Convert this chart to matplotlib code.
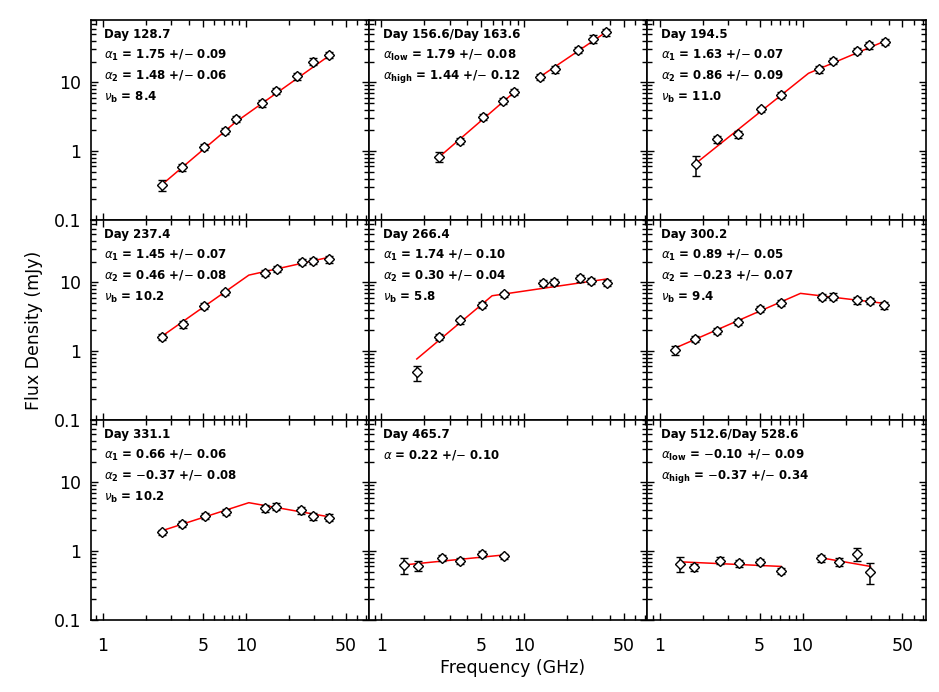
import numpy as np
import matplotlib
matplotlib.use('Agg')
import matplotlib.pyplot as plt
from matplotlib.ticker import FixedLocator, FixedFormatter, LogLocator, NullFormatter

plt.rcParams['font.family'] = ['DejaVu Sans']
plt.rcParams['mathtext.fontset'] = 'dejavusans'

# --- panel data (GHz, mJy) ---
freq_p1 = [2.6, 3.6, 5.1, 7.2, 8.6, 12.9, 16.3, 22.9, 29.4, 38.0]
flux_p1 = [0.32, 0.59, 1.16, 1.98, 2.92, 5.0, 7.5, 12.2, 20.0, 25.0]
err_p1 = [0.06, 0.07, 0.12, 0.2, 0.3, 0.55, 0.85, 1.3, 2.2, 2.6]
fitx_p1 = [[2.6, 8.4, 38.0]]
fity_p1 = [[0.33, 2.6, 24.0]]

freq_p2 = [2.55, 3.57, 5.12, 7.14, 8.53, 12.9, 16.5, 24.0, 30.1, 37.7]
flux_p2 = [0.83, 1.40, 3.16, 5.4, 7.2, 12.0, 15.4, 29.4, 43.0, 53.0]
err_p2 = [0.13, 0.15, 0.3, 0.5, 0.7, 1.3, 1.8, 3.2, 5.5, 5.5]
fitx_p2 = [[2.55, 8.53], [12.9, 37.7]]
fity_p2 = [[0.83, 7.2], [12.0, 54.0]]

freq_p3 = [1.78, 2.52, 3.54, 5.08, 7.11, 13.1, 16.3, 24.0, 29.0, 37.6]
flux_p3 = [0.65, 1.48, 1.77, 4.05, 6.6, 15.4, 20.5, 28.6, 34.7, 38.7]
err_p3 = [0.21, 0.17, 0.2, 0.4, 0.65, 1.7, 2.2, 3.0, 4.0, 4.2]
fitx_p3 = [[1.78, 11.0, 37.6]]
fity_p3 = [[0.66, 13.5, 39.5]]

freq_p4 = [2.59, 3.63, 5.08, 7.18, 13.7, 16.5, 24.6, 29.7, 38.0]
flux_p4 = [1.62, 2.45, 4.56, 7.14, 13.7, 15.6, 19.9, 20.5, 21.7]
err_p4 = [0.16, 0.25, 0.45, 0.7, 1.5, 1.7, 2.2, 2.3, 2.4]
fitx_p4 = [[2.59, 10.5, 38.0]]
fity_p4 = [[1.65, 12.7, 23.0]]

freq_p5 = [1.77, 2.55, 3.57, 5.07, 7.18, 13.6, 16.2, 24.6, 29.6, 38.3]
flux_p5 = [0.49, 1.60, 2.80, 4.67, 6.68, 9.84, 10.2, 11.4, 10.5, 9.84]
err_p5 = [0.12, 0.16, 0.28, 0.45, 0.65, 1.1, 1.1, 1.2, 1.1, 1.1]
fitx_p5 = [[1.77, 5.96, 38.3]]
fity_p5 = [[0.77, 6.37, 11.2]]

freq_p6 = [1.27, 1.76, 2.52, 3.54, 5.02, 7.11, 13.6, 16.3, 24.0, 29.8, 37.4]
flux_p6 = [1.04, 1.50, 1.96, 2.67, 4.05, 5.05, 6.1, 6.2, 5.5, 5.4, 4.67]
err_p6 = [0.16, 0.16, 0.2, 0.27, 0.4, 0.5, 0.65, 0.7, 0.6, 0.6, 0.55]
fitx_p6 = [[1.27, 9.67, 37.4]]
fity_p6 = [[1.10, 6.9, 4.94]]

freq_p7 = [2.59, 3.57, 5.14, 7.21, 13.7, 16.3, 24.4, 29.7, 38.0]
flux_p7 = [1.88, 2.48, 3.24, 3.73, 4.18, 4.42, 3.95, 3.24, 3.06]
err_p7 = [0.18, 0.24, 0.32, 0.37, 0.45, 0.5, 0.45, 0.38, 0.36]
fitx_p7 = [[2.59, 10.5, 38.0]]
fity_p7 = [[1.98, 5.05, 3.16]]

freq_p8 = [1.43, 1.80, 2.64, 3.57, 5.04, 7.17]
flux_p8 = [0.63, 0.61, 0.80, 0.72, 0.91, 0.85]
err_p8 = [0.16, 0.10, 0.09, 0.08, 0.08, 0.07]
fitx_p8 = [[1.43, 7.17]]
fity_p8 = [[0.63, 0.88]]

freq_p9 = [1.38, 1.75, 2.64, 3.58, 5.02, 7.08, 13.5, 17.9, 24.0, 29.9]
flux_p9 = [0.65, 0.58, 0.73, 0.665, 0.70, 0.51, 0.79, 0.70, 0.91, 0.50]
err_p9 = [0.16, 0.06, 0.08, 0.07, 0.07, 0.05, 0.09, 0.1, 0.19, 0.17]
fitx_p9 = [[1.38, 7.08], [13.5, 29.9]]
fity_p9 = [[0.70, 0.60], [0.80, 0.60]]

labels_p1 = ['Day 128.7', r'$\alpha_\mathbf{1}$ = 1.75 +/$-$ 0.09',
             r'$\alpha_\mathbf{2}$ = 1.48 +/$-$ 0.06', r'$\nu_\mathbf{b}$ = 8.4']
labels_p2 = ['Day 156.6/Day 163.6', r'$\alpha_\mathbf{low}$ = 1.79 +/$-$ 0.08',
             r'$\alpha_\mathbf{high}$ = 1.44 +/$-$ 0.12']
labels_p3 = ['Day 194.5', r'$\alpha_\mathbf{1}$ = 1.63 +/$-$ 0.07',
             r'$\alpha_\mathbf{2}$ = 0.86 +/$-$ 0.09', r'$\nu_\mathbf{b}$ = 11.0']
labels_p4 = ['Day 237.4', r'$\alpha_\mathbf{1}$ = 1.45 +/$-$ 0.07',
             r'$\alpha_\mathbf{2}$ = 0.46 +/$-$ 0.08', r'$\nu_\mathbf{b}$ = 10.2']
labels_p5 = ['Day 266.4', r'$\alpha_\mathbf{1}$ = 1.74 +/$-$ 0.10',
             r'$\alpha_\mathbf{2}$ = 0.30 +/$-$ 0.04', r'$\nu_\mathbf{b}$ = 5.8']
labels_p6 = ['Day 300.2', r'$\alpha_\mathbf{1}$ = 0.89 +/$-$ 0.05',
             r'$\alpha_\mathbf{2}$ = $-$0.23 +/$-$ 0.07', r'$\nu_\mathbf{b}$ = 9.4']
labels_p7 = ['Day 331.1', r'$\alpha_\mathbf{1}$ = 0.66 +/$-$ 0.06',
             r'$\alpha_\mathbf{2}$ = $-$0.37 +/$-$ 0.08', r'$\nu_\mathbf{b}$ = 10.2']
labels_p8 = ['Day 465.7', r'$\alpha$ = 0.22 +/$-$ 0.10']
labels_p9 = ['Day 512.6/Day 528.6', r'$\alpha_\mathbf{low}$ = $-$0.10 +/$-$ 0.09',
             r'$\alpha_\mathbf{high}$ = $-$0.37 +/$-$ 0.34']

xticks = [1, 5, 10, 50]
xtick_labels = ['1', '5', '10', '50']
yticks = [0.1, 1, 10]
ytick_labels = ['0.1', '1', '10']

panels = [
    (freq_p1, flux_p1, err_p1, fitx_p1, fity_p1, labels_p1),
    (freq_p2, flux_p2, err_p2, fitx_p2, fity_p2, labels_p2),
    (freq_p3, flux_p3, err_p3, fitx_p3, fity_p3, labels_p3),
    (freq_p4, flux_p4, err_p4, fitx_p4, fity_p4, labels_p4),
    (freq_p5, flux_p5, err_p5, fitx_p5, fity_p5, labels_p5),
    (freq_p6, flux_p6, err_p6, fitx_p6, fity_p6, labels_p6),
    (freq_p7, flux_p7, err_p7, fitx_p7, fity_p7, labels_p7),
    (freq_p8, flux_p8, err_p8, fitx_p8, fity_p8, labels_p8),
    (freq_p9, flux_p9, err_p9, fitx_p9, fity_p9, labels_p9),
]


def style_axis(ax, row, col):
    ax.set_xscale('log')
    ax.set_yscale('log')
    ax.set_xlim(0.82, 73)
    ax.set_ylim(0.1, 80)

    ax.xaxis.set_major_locator(FixedLocator(xticks))
    ax.xaxis.set_minor_locator(LogLocator(base=10, subs=np.arange(2, 10)))
    ax.yaxis.set_major_locator(FixedLocator(yticks))
    ax.yaxis.set_minor_locator(LogLocator(base=10, subs=np.arange(2, 10)))
    ax.xaxis.set_minor_formatter(NullFormatter())
    ax.yaxis.set_minor_formatter(NullFormatter())

    if row == 2:
        ax.xaxis.set_major_formatter(FixedFormatter(xtick_labels))
    else:
        ax.xaxis.set_major_formatter(NullFormatter())
    if col == 0:
        ax.yaxis.set_major_formatter(FixedFormatter(ytick_labels))
    else:
        ax.yaxis.set_major_formatter(NullFormatter())

    ax.tick_params(which='both', direction='in', top=True, right=True, width=1.0)
    ax.tick_params(which='major', length=5)
    ax.tick_params(which='minor', length=3.5)
    ax.tick_params(axis='x', which='major', pad=12, labelsize=12.5)
    ax.tick_params(axis='y', which='major', pad=7, labelsize=12.5)
    for s in ax.spines.values():
        s.set_linewidth(1.2)


fig, axes = plt.subplots(3, 3, figsize=(9.39, 6.92), dpi=100)
fig.subplots_adjust(left=0.0966, right=0.986, top=0.971, bottom=0.104,
                    wspace=0, hspace=0)

for i, (freq, flux, err, fitx, fity, labels) in enumerate(panels):
    row, col = divmod(i, 3)
    ax = axes[row, col]
    style_axis(ax, row, col)

    for fx, fy in zip(fitx, fity):
        ax.plot(fx, fy, color='red', lw=1.1, zorder=2)

    ax.errorbar(freq, flux, yerr=err, fmt='D', ms=5, mfc='white', mec='black',
                mew=1.0, ecolor='black', elinewidth=1.1, capsize=3, capthick=1.1,
                zorder=3)

    for k, txt in enumerate(labels):
        ax.text(0.049, 0.928 - 0.105 * k, txt, transform=ax.transAxes,
                fontsize=8.5, fontweight='bold', va='center', ha='left')

fig.text(0.036, 0.522, 'Flux Density (mJy)', rotation=90, fontsize=12.5,
         va='center', ha='center')
fig.text(0.546, 0.035, 'Frequency (GHz)', fontsize=12.5, va='center', ha='center')

plt.savefig('out.png', dpi=100)
